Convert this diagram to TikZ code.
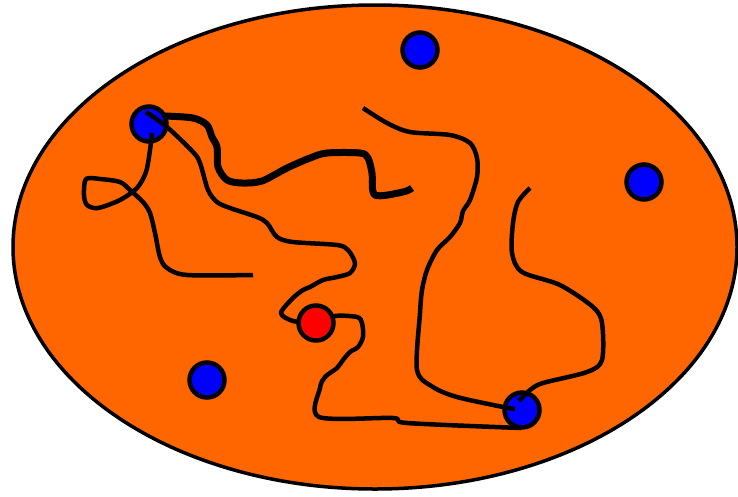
\documentclass[tikz,border=0pt]{standalone}
\definecolor{bgorange}{HTML}{FF6600}
\begin{document}
\begin{tikzpicture}[x=1pt,y=-1pt,
  bluedot/.style={circle,draw=black,line width=4.5pt,fill=blue,minimum size=35pt,inner sep=0pt},
  reddot/.style={circle,draw=black,line width=4.5pt,fill=red,minimum size=35pt,inner sep=0pt},
  wire/.style={line width=4.5pt,line join=round,line cap=butt},
  thickwire/.style={line width=7pt,line join=round,line cap=butt}]
\useasboundingbox (0,0) rectangle (738,496);
\fill[white] (0,0) rectangle (738,496);
\draw[fill=bgorange,line width=3.5pt] (375,247) ellipse [x radius=362, y radius=242];
% blue dots
\node[bluedot] (b1) at (149,124) {};
\node[bluedot] (b2) at (420,50) {};
\node[bluedot] (b3) at (644,182) {};
\node[bluedot] (b4) at (207,380) {};
\node[bluedot] (b5) at (522,410) {};
% thick wire A
\draw[thickwire] plot[smooth,tension=0.5] coordinates {(165,116) (193,118) (207,125) (212,137) (217,147) (218,167) (227,180) (242,183) (262,181) (287,168) (310,158) (327,153) (360,153) (368,158) (372,173) (375,195) (403,192) (412,188)};
% wire B
\draw[wire] plot[smooth,tension=0.5] coordinates {(146,112) (167,127) (193,152) (200,163) (208,190) (217,202) (230,208) (257,217) (267,223) (277,237) (293,242) (337,245) (348,250) (355,263) (350,273) (337,277) (323,280) (310,287) (303,290) (293,298) (281,313) (293,321) (316,323)};
\draw[wire] plot[smooth,tension=0.5] coordinates {(316,323) (335,316) (357,317) (362,323) (363,337) (358,347) (350,352) (343,360) (337,368) (325,377) (320,388) (319,417) (393,418) (407,423) (521,428)};
% wire C
\draw[wire] plot[smooth,tension=0.5] coordinates {(152,133) (150,150) (146,172) (137,188) (120,200) (98,208) (87,205) (84,195) (86,179) (100,179) (120,182) (130,190) (143,202) (150,213) (155,233) (160,257) (167,268) (187,275) (253,275)};
% wire D
\draw[wire] plot[smooth,tension=0.5] coordinates {(363,108) (387,123) (410,132) (450,135) (470,143) (477,158) (477,177) (470,200) (463,211) (460,223) (450,237) (437,250) (427,270) (422,290) (420,313) (417,370) (433,387) (457,397) (503,407) (515,409)};
% wire E
\draw[wire] plot[smooth,tension=0.5] coordinates {(530,188) (518,202) (513,223) (512,253) (522,272) (560,285) (593,307) (602,323) (602,360) (587,372) (543,383) (530,390) (519,401)};
% red dot
\node[reddot] (r1) at (316,323) {};
\end{tikzpicture}
\end{document}
